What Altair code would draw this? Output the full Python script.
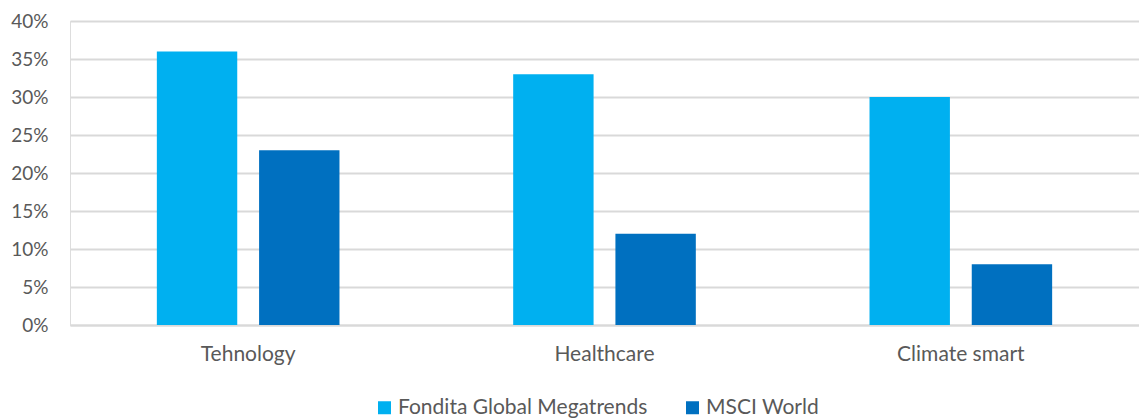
import altair as alt
import pandas as pd

categories = ["Tehnology", "Healthcare", "Climate smart"]
series = ["Fondita Global Megatrends", "MSCI World"]
fondita = [0.36, 0.33, 0.30]
msci = [0.23, 0.12, 0.08]
colors = ["#00B0F0", "#0070C0"]

rows = []
for c, a, b in zip(categories, fondita, msci):
    rows.append({"category": c, "series": series[0], "value": a})
    rows.append({"category": c, "series": series[1], "value": b})
df = pd.DataFrame(rows)

FONT = "Lato"
GREY = "#595959"

chart = alt.Chart(df).mark_bar().encode(
    x=alt.X("category:N", sort=categories, title=None,
            scale=alt.Scale(paddingInner=0, paddingOuter=0),
            axis=alt.Axis(labelAngle=0, ticks=False, domainColor="#d9d9d9", domainWidth=2,
                          labelFont=FONT, labelFontSize=21, labelColor=GREY, labelPadding=18)),
    xOffset=alt.XOffset("series:N", sort=series,
                        scale=alt.Scale(paddingInner=0.2136, paddingOuter=0.8495)),
    y=alt.Y("value:Q", title=None,
            scale=alt.Scale(domain=[0, 0.40]),
            axis=alt.Axis(format=".0%", values=[0, 0.05, 0.10, 0.15, 0.20, 0.25, 0.30, 0.35, 0.40],
                          domain=False, ticks=False, gridColor="#d9d9d9", gridWidth=2,
                          labelFont=FONT, labelFontSize=19, labelColor=GREY, labelPadding=22)),
    color=alt.Color("series:N", sort=series,
                    scale=alt.Scale(domain=series, range=colors),
                    legend=alt.Legend(title=None, orient="none", direction="horizontal",
                                      legendX=304, legendY=376,
                                      symbolType="square", symbolSize=169, symbolStrokeWidth=0,
                                      labelFont=FONT, labelFontSize=21, labelColor=GREY, labelLimit=0,
                                      columnPadding=34, labelOffset=3)),
).properties(
    width=1069, height=304,
    padding={"left": 2, "top": 4, "right": 0, "bottom": 0},
).configure_view(stroke=None).configure(background="white")

chart.save("out.html", embed_options={"renderer": "svg", "actions": False})
